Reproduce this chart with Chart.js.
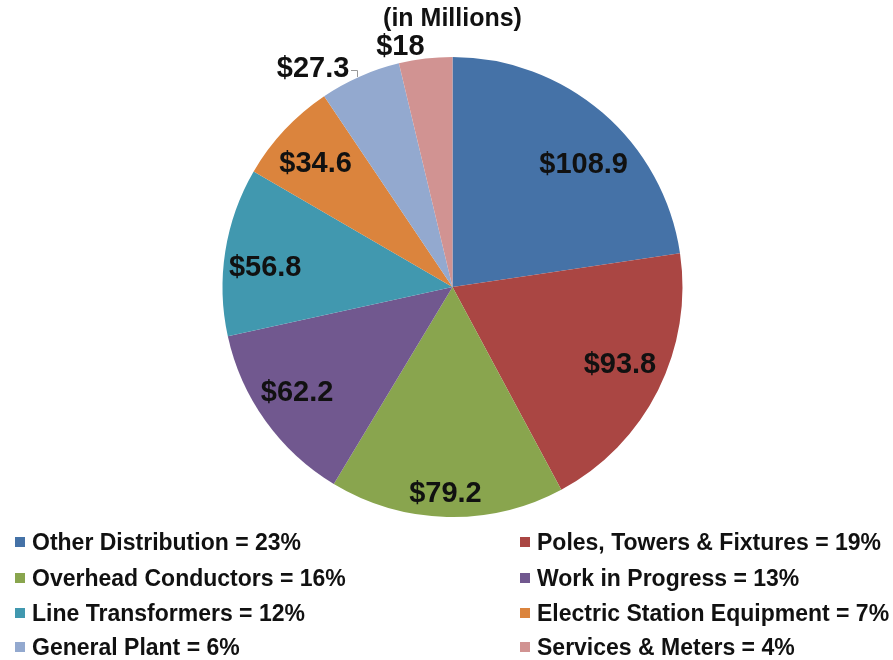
<!DOCTYPE html>
<html>
<head>
<meta charset="utf-8">
<script src="https://cdn.jsdelivr.net/npm/chart.js@4.4.1/dist/chart.umd.min.js"></script>
<style>
  body { margin: 0; background: #fff; font-family: "Liberation Sans", Arial, sans-serif; }
  #wrap { position: relative; width: 893px; height: 660px; overflow: hidden; }
  #pie { position: absolute; left: 0; top: 0; }
  #title { position: absolute; left: 0; width: 905px; top: 3px; text-align: center; font-weight: bold; font-size: 25px; color: #111; }
  .item { position: absolute; font-weight: bold; font-size: 23px; color: #111; white-space: nowrap; line-height: 24px; }
  .item span { display: inline-block; width: 10px; height: 10px; margin-right: 7px; vertical-align: 3px; }
</style>
</head>
<body>
<div id="wrap">
  <canvas id="pie" width="893" height="660"></canvas>
  <div id="title">(in Millions)</div>
  <div id="legend"></div>
</div>
<script>
// categories, values ($ millions) and legend percentages
const categories = ['Other Distribution', 'Poles, Towers & Fixtures', 'Overhead Conductors', 'Work in Progress',
                    'Line Transformers', 'Electric Station Equipment', 'General Plant', 'Services & Meters'];
const values = [108.9, 93.8, 79.2, 62.2, 56.8, 34.6, 27.3, 18];
const percents = [23, 19, 16, 13, 12, 7, 6, 4];
const colors = ['#4572A7', '#AA4643', '#89A54E', '#71588F', '#4198AF', '#DB843D', '#93A9CF', '#D19392'];

// value labels: distance from centre as a share of the radius, plus a small nudge
const labelDist = [0.78, 0.8, 0.89, 0.81, 0.82, 0.81, 1.13, 1.08];
const nudge = [[14, 14], [3, -5], [-2, 2], [-4, -3], [-1, 10], [-1, 4], [-35, 20], [-23, 7]];

const valueLabels = {
    id: 'valueLabels',
    afterDatasetsDraw(chart) {
        const ctx = chart.ctx;
        const arcs = chart.getDatasetMeta(0).data;
        ctx.save();
        ctx.font = 'bold 29px "Liberation Sans", Arial, sans-serif';
        ctx.fillStyle = '#111';
        ctx.textAlign = 'center';
        ctx.textBaseline = 'middle';
        arcs.forEach((arc, i) => {
            const mid = (arc.startAngle + arc.endAngle) / 2;
            const r = arc.outerRadius * labelDist[i];
            const x = arc.x + Math.cos(mid) * r + nudge[i][0];
            const y = arc.y + Math.sin(mid) * r + nudge[i][1];
            ctx.fillText('$' + values[i], x, y);
        });
        // small leader for the General Plant label
        ctx.strokeStyle = '#999';
        ctx.lineWidth = 1;
        ctx.beginPath();
        ctx.moveTo(351, 70.5);
        ctx.lineTo(357.5, 70.5);
        ctx.lineTo(357.5, 77);
        ctx.stroke();
        ctx.restore();
    }
};

new Chart(document.getElementById('pie'), {
    type: 'pie',
    data: {
        labels: categories,
        datasets: [{
            data: values,
            backgroundColor: colors,
            borderWidth: 0
        }]
    },
    options: {
        responsive: false,
        animation: false,
        layout: { padding: { top: 57, bottom: 143, left: 222, right: 210 } },
        plugins: {
            legend: { display: false },
            tooltip: { enabled: false }
        }
    },
    plugins: [valueLabels]
});

// legend in two columns
const legend = document.getElementById('legend');
const rowTop = [530, 566, 601, 635];
categories.forEach((name, i) => {
    const d = document.createElement('div');
    d.className = 'item';
    d.style.left = (i % 2 === 0 ? 15 : 520) + 'px';
    d.style.top = rowTop[Math.floor(i / 2)] + 'px';
    d.innerHTML = '<span style="background:' + colors[i] + '"></span>' + name + ' = ' + percents[i] + '%';
    legend.appendChild(d);
});
</script>
</body>
</html>
